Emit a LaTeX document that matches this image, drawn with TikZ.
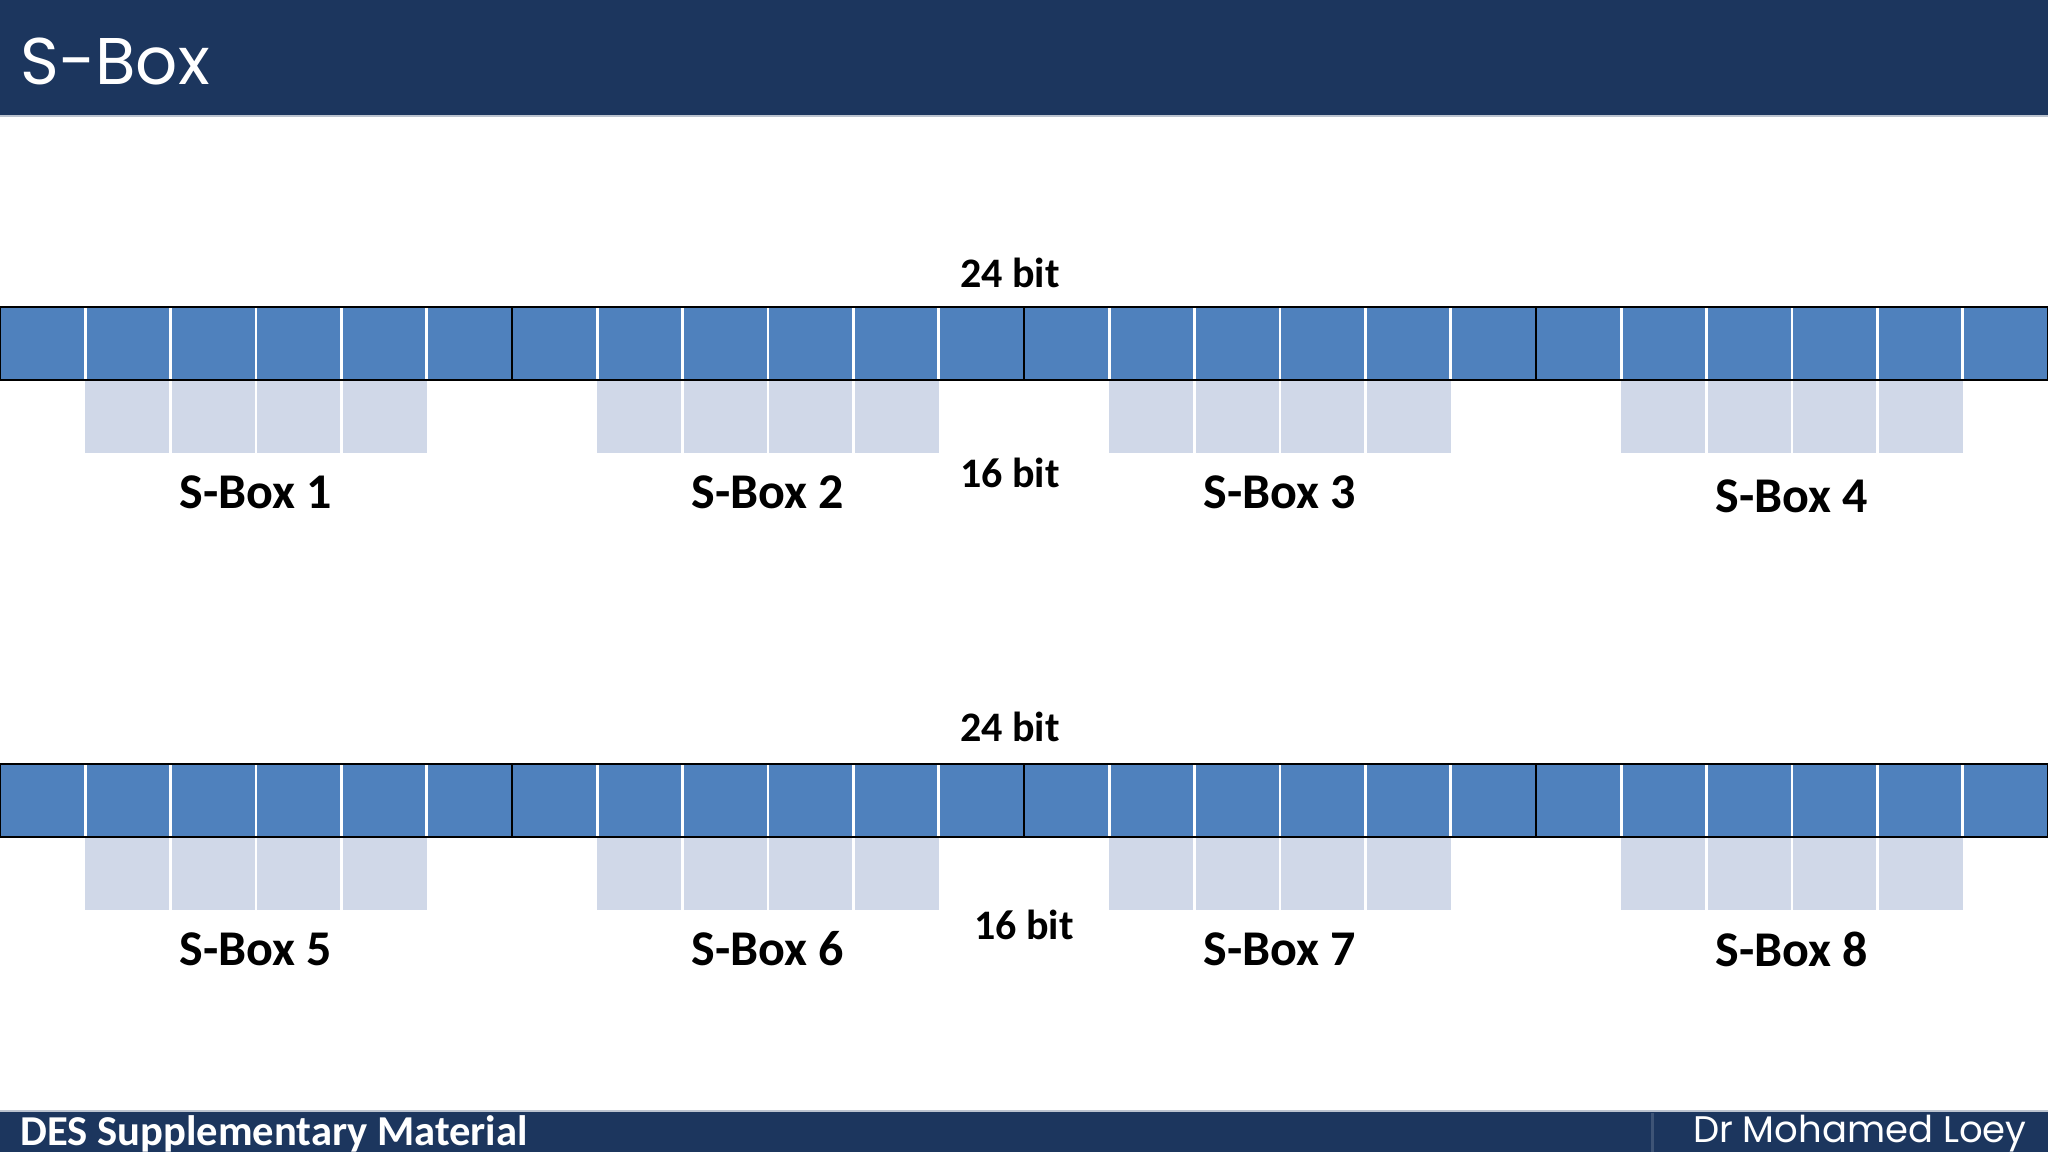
\documentclass[tikz,border=0pt]{standalone}
\usepackage{fontspec}
\setmainfont{Carlito}
\newfontfamily\titlefont{Poppins}
\definecolor{barnavy}{HTML}{1C365E}
\definecolor{bitblue}{HTML}{4F81BD}
\definecolor{boxgray}{HTML}{D0D8E8}
\tikzset{
	bitlabel/.style={font=\bfseries\fontsize{21}{25}\selectfont},
	sboxlabel/.style={font=\bfseries\fontsize{25}{30}\selectfont}
}
\begin{document}
\begin{tikzpicture} [x=0.5pt,y=-0.5pt]
		\useasboundingbox (0,0) rectangle (2048,1152);
		% title and footer bars
		\fill [barnavy] (0,0) rectangle (2048,116);
		\draw [white!70!barnavy,line width=1pt] (0,116) -- (2048,116);
		\node (title) [anchor=base west,white,inner sep=0pt,font=\titlefont\fontsize{33}{38}\selectfont] at (20,84) {S-Box};
		\fill [barnavy] (0,1111) rectangle (2048,1152);
		\draw [white!70!barnavy,line width=1pt] (0,1111) -- (2048,1111);
		\draw [white!15!barnavy,line width=1.5pt] (1652,1113) -- (1652,1152);
		\node (course) [anchor=base west,white,inner sep=0pt,font=\bfseries\fontsize{21.3}{25}\selectfont] at (20,1145) {DES Supplementary Material};
		\node (author) [anchor=base east,white,inner sep=0pt,font=\titlefont\fontsize{18.5}{22}\selectfont] at (2027,1142) {Dr Mohamed Loey};
		% two rows of 24 bits
		\foreach \top/\n in {307/1,764/5} {
			\fill [bitblue] (0,\top) rectangle (2048,\top+73);
			\foreach \g in {0,1,2,3} {
				\fill [boxgray] (\g*512+85.33,\top+73) rectangle (\g*512+426.67,\top+146);
				\foreach \c in {2,3,4}
					\draw [white,line width=1.2pt] (\g*512+\c*85.33,\top+73) -- (\g*512+\c*85.33,\top+146);
				\foreach \c in {1,2,3,4,5}
					\draw [white,line width=1.2pt] (\g*512+\c*85.33,\top) -- (\g*512+\c*85.33,\top+73);
				\draw [line width=1pt] (\g*512,\top) -- (\g*512,\top+73);
			}
			\draw [line width=1pt] (0,\top) rectangle (2048,\top+73);
		}
		% labels
		\node (top24) [bitlabel] at (1010,273) {24 bit};
		\node (top16) [bitlabel] at (1010,473) {16 bit};
		\node (bot24) [bitlabel] at (1010,727) {24 bit};
		\node (bot16) [bitlabel] at (1024,925) {16 bit};
		\node (sbox1) [sboxlabel] at (256,492) {S-Box 1};
		\node (sbox2) [sboxlabel] at (768,492) {S-Box 2};
		\node (sbox3) [sboxlabel] at (1280,492) {S-Box 3};
		\node (sbox4) [sboxlabel] at (1792,496) {S-Box 4};
		\node (sbox5) [sboxlabel] at (256,949) {S-Box 5};
		\node (sbox6) [sboxlabel] at (768,949) {S-Box 6};
		\node (sbox7) [sboxlabel] at (1280,949) {S-Box 7};
		\node (sbox8) [sboxlabel] at (1792,949) {S-Box 8};
	\end{tikzpicture}
\end{document}
